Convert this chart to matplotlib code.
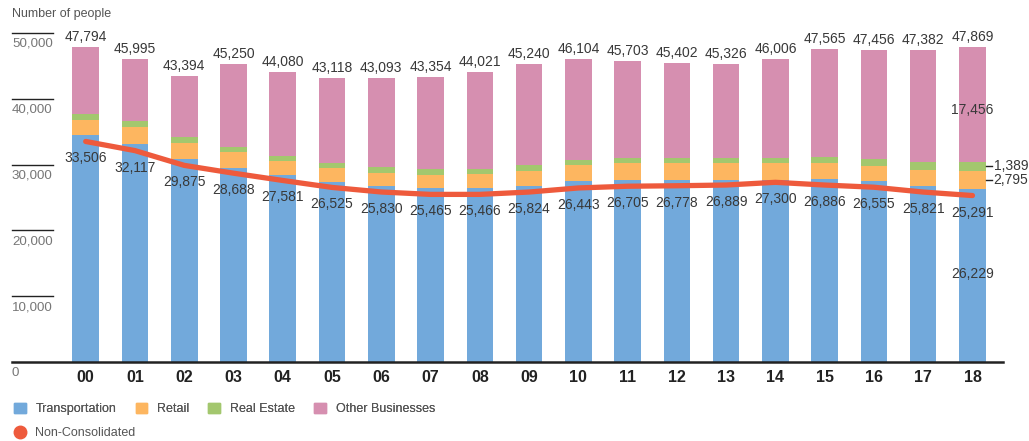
import matplotlib
matplotlib.use("Agg")
import matplotlib.pyplot as plt
import matplotlib.transforms as mtransforms
from matplotlib.patches import Patch
from matplotlib.lines import Line2D
import numpy as np

plt.rcParams['font.family'] = ['Liberation Sans', 'DejaVu Sans']

years = ['00', '01', '02', '03', '04', '05', '06', '07', '08', '09',
         '10', '11', '12', '13', '14', '15', '16', '17', '18']
transportation = [34450, 33080, 30800, 29480, 28420, 27360, 26750, 26450, 26450, 26750,
                  27510, 27660, 27660, 27660, 27660, 27815, 27510, 26750, 26229]
retail = [2270, 2630, 2430, 2390, 2080, 2120, 1970, 1970, 2120, 2280,
          2430, 2580, 2580, 2580, 2580, 2430, 2280, 2430, 2795]
real_estate = [960, 860, 960, 760, 800, 720, 910, 870, 760, 910,
               760, 820, 820, 770, 770, 910, 1060, 1210, 1389]
other = [10114, 9425, 9204, 12620, 12780, 12918, 13463, 14064, 14691, 15300,
         15404, 14643, 14342, 14316, 14996, 16410, 16606, 16992, 17456]
totals = [47794, 45995, 43394, 45250, 44080, 43118, 43093, 43354, 44021, 45240,
          46104, 45703, 45402, 45326, 46006, 47565, 47456, 47382, 47869]
non_consolidated = [33506, 32117, 29875, 28688, 27581, 26525, 25830, 25465, 25466, 25824,
                    26443, 26705, 26778, 26889, 27300, 26886, 26555, 25821, 25291]
y_ticks = [0, 10000, 20000, 30000, 40000, 50000]

c_blue = '#72a9db'
c_orange = '#fdb660'
c_green = '#a3c76e'
c_pink = '#d68fb0'
c_red = '#ee5a3c'
txt = '#383838'

fig = plt.figure(figsize=(10.29, 4.41), dpi=100)
ax = fig.add_axes([12 / 1029, 79 / 441, 991 / 1029, 362 / 441])

x = np.arange(len(years))
w = 0.54
t = np.array(transportation)
r = np.array(retail)
re = np.array(real_estate)
o = np.array(other)

ax.bar(x, t, w, color=c_blue, label='Transportation')
ax.bar(x, r, w, bottom=t, color=c_orange, label='Retail')
ax.bar(x, re, w, bottom=t + r, color=c_green, label='Real Estate')
ax.bar(x, o, w, bottom=t + r + re, color=c_pink, label='Other Businesses')

ax.plot(x, non_consolidated, color=c_red, lw=3.8, solid_capstyle='round',
        solid_joinstyle='round', zorder=3)

ax.set_xlim(-1.496, 18.62)
ax.set_ylim(0, 55000)

for s in ['top', 'right', 'left']:
    ax.spines[s].set_visible(False)
ax.spines['bottom'].set_color('#222222')
ax.spines['bottom'].set_linewidth(1.8)
ax.set_yticks([])
ax.set_xticks(x)
ax.set_xticklabels(years, fontsize=11.5, fontweight='bold', color='#222222')
ax.tick_params(axis='x', length=0, pad=6)

# y "ticks": short lines with label below
trans = mtransforms.blended_transform_factory(ax.transAxes, ax.transData)
for v in y_ticks:
    if v > 0:
        ax.plot([0, 41 / 991], [v, v], color='#222222', lw=1, transform=trans, clip_on=False)
    ax.annotate(f'{v:,}', xy=(0, v), xycoords=trans, xytext=(0, -11),
                textcoords='offset pixels', ha='left', va='center',
                fontsize=9.6, color='#777777')

fig.text(12 / 1029, 1 - 14 / 441, 'Number of people', ha='left', va='center',
         fontsize=9, color='#555555')

# totals and non-consolidated labels
for i in range(len(years)):
    ax.annotate(f'{totals[i]:,}', xy=(x[i], totals[i]), xytext=(0, 10),
                textcoords='offset pixels', ha='center', va='center',
                fontsize=10, color=txt)
    ax.annotate(f'{non_consolidated[i]:,}', xy=(x[i], non_consolidated[i]), xytext=(0, -17),
                textcoords='offset pixels', ha='center', va='center',
                fontsize=10, color=txt, zorder=4)

# segment labels for latest year
i = len(years) - 1
ax.text(x[i], t[i] / 2 + 200, f'{transportation[i]:,}', ha='center', va='center',
        fontsize=10, color=txt)
ax.text(x[i], t[i] + r[i] + re[i] + o[i] * 0.45, f'{other[i]:,}', ha='center', va='center',
        fontsize=10, color=txt)
for val, yv in [(retail[i], t[i] + r[i] / 2), (real_estate[i], t[i] + r[i] + re[i] / 2)]:
    ax.plot([x[i] + w / 2 + 0.01, x[i] + w / 2 + 0.13], [yv, yv], color='#222222', lw=1,
            clip_on=False)
    ax.annotate(f'{val:,}', xy=(x[i] + w / 2 + 0.16, yv), ha='left', va='center',
                fontsize=10, color=txt, annotation_clip=False)

handles = [Patch(color=c_blue, label='Transportation'),
           Patch(color=c_orange, label='Retail'),
           Patch(color=c_green, label='Real Estate'),
           Patch(color=c_pink, label='Other Businesses')]
leg1 = fig.legend(handles=handles, loc='center left', bbox_to_anchor=(14 / 1029, 1 - 409 / 441),
                  ncol=4, frameon=False, fontsize=9, borderpad=0, borderaxespad=0,
                  handlelength=0.95, handleheight=0.95, handletextpad=0.8, columnspacing=1.5,
                  labelcolor='#555555')
fig.add_artist(leg1)
leg2 = fig.legend(handles=[Line2D([], [], marker='o', ls='none', color=c_red, markersize=9,
                                  label='Non-Consolidated')],
                  loc='center left', bbox_to_anchor=(12 / 1029, 1 - 433 / 441),
                  frameon=False, fontsize=9, borderpad=0, borderaxespad=0,
                  handlelength=1.2, handletextpad=0.6, labelcolor='#555555')

fig.savefig('out.png', dpi=100)
